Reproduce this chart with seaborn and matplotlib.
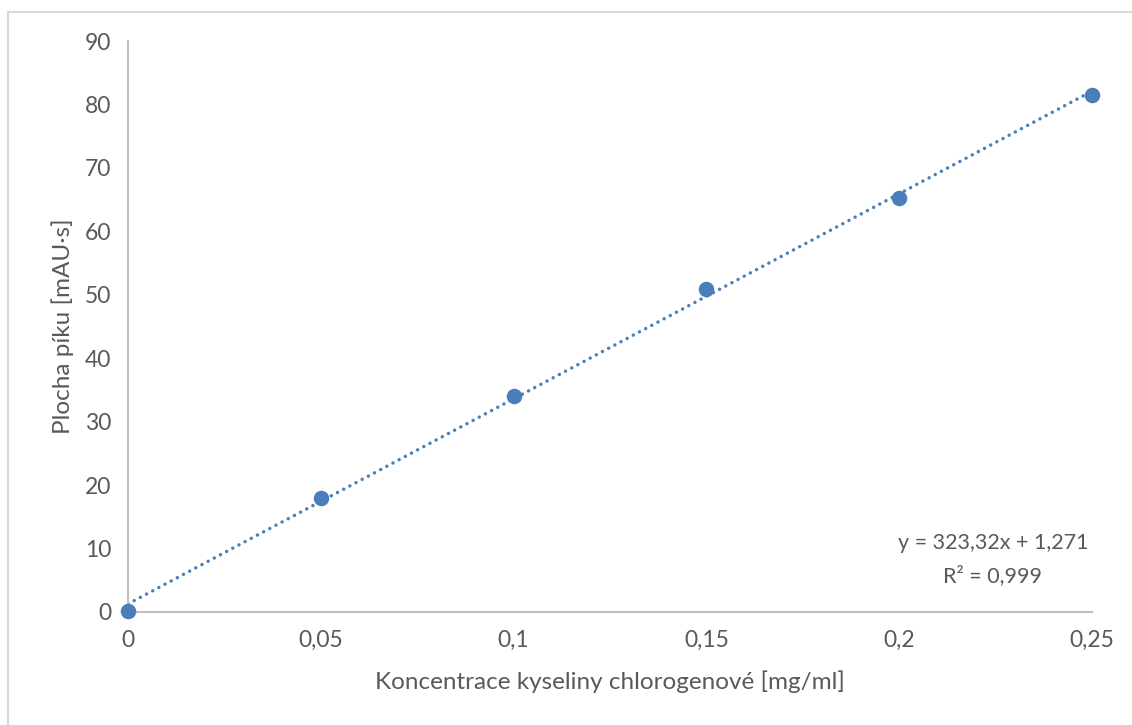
import numpy as np
import pandas as pd
import matplotlib
matplotlib.use("Agg")
import matplotlib.pyplot as plt
import seaborn as sns
from matplotlib.patches import Rectangle

# Calibration data: chlorogenic acid concentration vs. peak area
concentration = [0.0, 0.05, 0.10, 0.15, 0.20, 0.25]
peak_area = [0.1, 18.0, 34.1, 50.9, 65.3, 81.5]

# Linear trendline reported on the chart
slope = 323.32
intercept = 1.271
r_squared = 0.999

x_ticks = [0, 0.05, 0.10, 0.15, 0.20, 0.25]
x_tick_labels = ["0", "0,05", "0,1", "0,15", "0,2", "0,25"]
y_ticks = [0, 10, 20, 30, 40, 50, 60, 70, 80, 90]

sns.set_theme(style="white")
plt.rcParams["font.family"] = ["Lato", "DejaVu Sans"]

text_color = "#595959"
axis_color = "#BFBFBF"
point_color = "#4A7EBB"

fig = plt.figure(figsize=(11.32, 7.25), dpi=100)
ax = fig.add_axes([0.1131, 0.1559, 0.8516, 0.7875])

df = pd.DataFrame({"x": concentration, "y": peak_area})

trend = pd.DataFrame({"x": [0.0, 0.25]})
trend["y"] = slope * trend["x"] + intercept
sns.lineplot(data=trend, x="x", y="y", ax=ax, color=point_color,
             linewidth=2.5, linestyle=(0, (0.01, 2.0)), zorder=2)
ax.lines[-1].set_dash_capstyle("round")

sns.scatterplot(data=df, x="x", y="y", ax=ax, s=125, color=point_color,
                edgecolor=point_color, linewidth=0, zorder=3, clip_on=False)

ax.set_xlim(0, 0.25)
ax.set_ylim(0, 90)
ax.set_xticks(x_ticks)
ax.set_xticklabels(x_tick_labels)
ax.set_yticks(y_ticks)
ax.tick_params(axis="both", length=0, labelsize=16.5, colors=text_color)
ax.tick_params(axis="x", pad=13)
ax.tick_params(axis="y", pad=12)

for side in ["top", "right"]:
    ax.spines[side].set_visible(False)
for side in ["left", "bottom"]:
    ax.spines[side].set_color(axis_color)
    ax.spines[side].set_linewidth(1.5)

ax.set_xlabel("Koncentrace kyseliny chlorogenové [mg/ml]", fontsize=17.5,
              color=text_color, labelpad=14)
ax.set_ylabel("Plocha píku [mAU·s]", fontsize=17.5, color=text_color,
              labelpad=8)

ax.text(0.2243, 10.9, f"y = {slope:.2f}x + {intercept:.3f}".replace(".", ","),
        ha="center", va="center", fontsize=15.5, color=text_color)
ax.text(0.2243, 5.8, f"R² = {r_squared:.3f}".replace(".", ","),
        ha="center", va="center", fontsize=15.5, color=text_color)

# Chart area frame
fig.patches.append(Rectangle((8 / 1132, -0.05), 1.2, 1 - 12 / 725 + 0.05,
                             transform=fig.transFigure, fill=False,
                             edgecolor="#D9D9D9", linewidth=1.5))

fig.savefig("out.png", dpi=100, facecolor="white")
